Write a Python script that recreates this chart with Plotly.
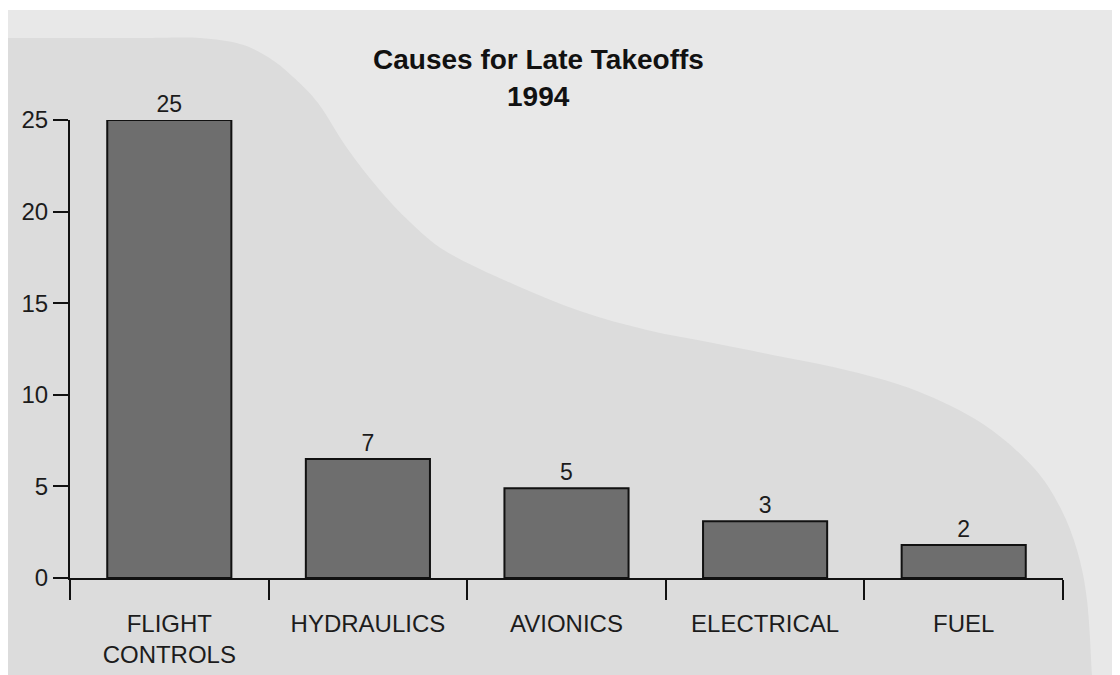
import plotly.graph_objects as go

# ---- data ----
categories = ["FLIGHT<br>CONTROLS", "HYDRAULICS", "AVIONICS", "ELECTRICAL", "FUEL"]
bar_values = [25, 6.5, 4.9, 3.1, 1.8]
bar_labels = ["25", "7", "5", "3", "2"]
y_ticks = [0, 5, 10, 15, 20, 25]

title_line1 = "Causes for Late Takeoffs"
title_line2 = "1994"

# ---- layout geometry (page pixels; page has an 8px body margin) ----
OFF = 8
W, H = 1120 - OFF, 675 - OFF
PL, PR, PT, PB = 70, 1063, 120, 578          # plot area in page pixels
L, T = PL - OFF, PT - OFF
R, B = W - (PR - OFF), H - (PB - OFF)
PW, PH = PR - PL, PB - PT

def px(x):
    return (x - PL) / PW

def py(y):
    return (PB - y) / PH

FONT = "Liberation Sans, Arial, Helvetica, sans-serif"
TXT = "#1c1c1c"

fig = go.Figure()
fig.add_trace(go.Bar(
    x=categories,
    y=bar_values,
    text=bar_labels,
    textposition="outside",
    textfont=dict(family=FONT, size=23, color=TXT),
    cliponaxis=False,
    width=0.625,
    marker=dict(color="#6e6e6e", line=dict(color="#111111", width=2)),
    hoverinfo="x+y",
))

# background blob (darker grey region), smoothed through Catmull-Rom
blob_pts = [(150, 38), (200, 38), (240, 44), (268, 57), (292, 76), (318, 103),
            (347, 148), (378, 188), (410, 222), (447, 252), (513, 284),
            (580, 311), (647, 330), (713, 343), (783, 357), (850, 371),
            (917, 391), (983, 424), (1033, 467), (1060, 507), (1077, 550),
            (1087, 600), (1092, 675), (1093, 700)]

def smooth(pts):
    d = f"M {px(0):.5f},{py(38):.5f} L {px(pts[0][0]):.5f},{py(pts[0][1]):.5f}"
    for i in range(len(pts) - 1):
        p0 = pts[i - 1] if i > 0 else pts[i]
        p1, p2 = pts[i], pts[i + 1]
        p3 = pts[i + 2] if i + 2 < len(pts) else p2
        c1 = (p1[0] + (p2[0] - p0[0]) / 6, p1[1] + (p2[1] - p0[1]) / 6)
        c2 = (p2[0] - (p3[0] - p1[0]) / 6, p2[1] - (p3[1] - p1[1]) / 6)
        d += (f" C {px(c1[0]):.5f},{py(c1[1]):.5f} {px(c2[0]):.5f},{py(c2[1]):.5f}"
              f" {px(p2[0]):.5f},{py(p2[1]):.5f}")
    d += f" L {px(0):.5f},{py(700):.5f} Z"
    return d

shapes = [
    dict(type="rect", xref="paper", yref="paper", x0=px(0), x1=px(1130), y0=py(10), y1=py(-5),
         fillcolor="white", line=dict(width=0), layer="below"),
    dict(type="path", xref="paper", yref="paper", path=smooth(blob_pts),
         fillcolor="#dcdcdc", line=dict(width=0), layer="below"),
]

fig.update_layout(
    width=W, height=H,
    margin=dict(l=L, r=R, t=T, b=B, pad=0, autoexpand=False),
    paper_bgcolor="#e8e8e8",
    plot_bgcolor="rgba(0,0,0,0)",
    showlegend=False,
    shapes=shapes,
    font=dict(family=FONT, color=TXT),
    annotations=[
        dict(text=f"<b>{title_line1}</b>", x=px(538), y=py(60), xref="paper", yref="paper",
             showarrow=False, xanchor="center", yanchor="middle",
             font=dict(family=FONT, size=28, color="#111111")),
        dict(text=f"<b>{title_line2}</b>", x=px(538), y=py(96), xref="paper", yref="paper",
             showarrow=False, xanchor="center", yanchor="middle",
             font=dict(family=FONT, size=28, color="#111111")),
    ],
    xaxis=dict(
        type="category",
        tickson="boundaries",
        ticks="outside", ticklen=20, tickwidth=2, tickcolor="#111111",
        showline=True, linecolor="#111111", linewidth=2,
        showgrid=False, zeroline=False,
        tickfont=dict(family=FONT, size=24, color=TXT),
        ticklabelstandoff=23,
        automargin=False,
        range=[-0.5, 4.5],
    ),
    yaxis=dict(
        range=[0, 25],
        tickvals=y_ticks,
        ticks="outside", ticklen=15, tickwidth=2, tickcolor="#111111",
        showline=True, linecolor="#111111", linewidth=2,
        showgrid=False, zeroline=False,
        tickfont=dict(family=FONT, size=24, color=TXT),
        ticklabelstandoff=0,
        automargin=False,
    ),
    bargap=0.375,
)

fig.write_html("out.html")
